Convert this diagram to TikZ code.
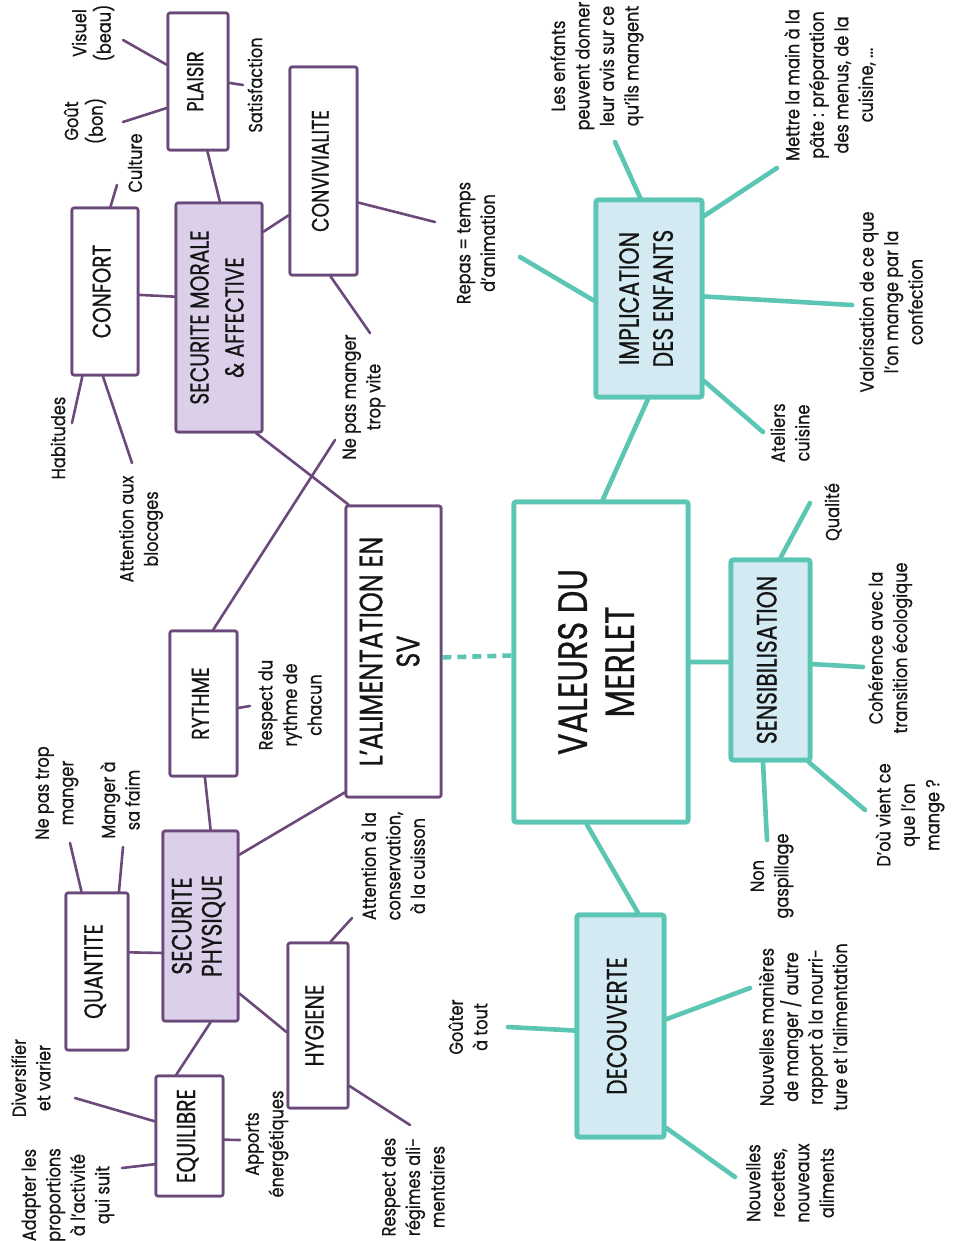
\documentclass[tikz,border=0pt]{standalone}
\usepackage{fontspec}
\setmainfont{Poppins}[FakeStretch=0.85, FakeBold=0.6]
\newfontfamily\capsfont{Poppins}[FakeStretch=0.78, FakeBold=0.6]
\usepackage{graphicx}
\usetikzlibrary{calc}
\definecolor{purp}{HTML}{6B4A7B}
\definecolor{lav}{HTML}{DCCFEA}
\definecolor{tealc}{HTML}{5CC6B4}
\definecolor{lblue}{HTML}{D3EAF3}
\definecolor{ink}{HTML}{151515}
\newcommand\edgeL[2]{($(#1.north west)!#2!(#1.south west)$)}
\newcommand\edgeR[2]{($(#1.north east)!#2!(#1.south east)$)}
\newcommand\edgeT[2]{($(#1.north west)!#2!(#1.north east)$)}
\newcommand\edgeB[2]{($(#1.south west)!#2!(#1.south east)$)}
\newcommand\rtext[1]{\rotatebox{90}{\begin{tabular}{@{}c@{}}#1\end{tabular}}}
\newcommand\fs[2]{\fontsize{#1}{#2}\selectfont}
\newcommand\cs[2]{\capsfont\fontsize{#1}{#2}\selectfont}
\begin{document}
\begin{tikzpicture}[x=1pt,y=-1pt,
  dim/.style 2 args={minimum width=#1pt, minimum height=#2pt},
  pbox/.style={draw=purp, line width=2.6pt, fill=white, rounded corners=2pt, inner sep=0pt, text=ink},
  pfill/.style={pbox, fill=lav},
  tbox/.style={draw=tealc, line width=4.6pt, fill=white, rounded corners=2pt, inner sep=0pt, text=ink},
  tfill/.style={tbox, fill=lblue},
  leaf/.style={rotate=90, align=center, font=\fs{19}{24.5}, inner sep=0pt, text=ink},
  pl/.style={draw=purp, line width=2.6pt, line cap=round},
  tl/.style={draw=tealc, line width=4.6pt, line cap=round}]
\fill[white] (0,0) rectangle (953,1241);
\useasboundingbox (0,0) rectangle (953,1241);

% ---------- purple boxes ----------
\node[pbox, dim={60}{137}, font=\cs{23}{26}] (plaisir) at (198,81.5) {\rtext{PLAISIR}};
\node[pbox, dim={67}{208}, font=\cs{24}{26}] (conviv) at (323.5,171) {\rtext{CONVIVIALITE}};
\node[pbox, dim={66}{167}, font=\cs{25.5}{28}] (confort) at (105,291.5) {\rtext{CONFORT}};
\node[pfill, dim={86}{229}, font=\cs{26}{35}] (secmor) at (219,317.5) {\rtext{SECURITE MORALE\\ \& AFFECTIVE}};
\node[pbox, dim={95}{291}, font=\cs{32.5}{37}] (alim) at (393.5,651.5) {\rtext{L’ALIMENTATION EN\\ SV}};
\node[pbox, dim={67}{145}, font=\cs{24.5}{27}] (rythme) at (203.5,703.5) {\rtext{RYTHME}};
\node[pfill, dim={75}{190}, font=\cs{28}{30}] (secphy) at (200.5,926) {\rtext{SECURITE\\ PHYSIQUE}};
\node[pbox, dim={62}{157}, font=\cs{26}{28}] (quant) at (97,971.5) {\rtext{QUANTITE}};
\node[pbox, dim={60}{165}, font=\cs{26}{28}] (hyg) at (318,1025.5) {\rtext{HYGIENE}};
\node[pbox, dim={67}{120}, font=\cs{26}{28}] (equil) at (189.5,1136) {\rtext{EQUILIBRE}};

% ---------- teal boxes ----------
\node[tbox, dim={174}{320}, font=\cs{41}{47}] (val) at (601,662) {\rtext{VALEURS DU\\ MERLET}};
\node[tfill, dim={106}{197}, font=\cs{28}{34}] (impl) at (649,298.5) {\rtext{IMPLICATION\\ DES ENFANTS}};
\node[tfill, dim={79}{200}, font=\cs{28}{30}] (sens) at (770.5,660) {\rtext{SENSIBILISATION}};
\node[tfill, dim={87}{222}, font=\cs{28}{30}] (dec) at (620.5,1026) {\rtext{DECOUVERTE}};

% ---------- leaf labels ----------
\node[leaf] (lvis) at (93,33) {Visuel\\(beau)};
\node[leaf] (lgout) at (85,121) {Goût\\(bon)};
\node[leaf] (lsat) at (255,85) {Satisfaction};
\node[leaf] (lcult) at (135,163) {Culture};
\node[leaf] (lhab) at (58,438) {Habitudes};
\node[leaf] (lbloc) at (141,529) {Attention aux\\blocages};
\node[leaf] (lvite) at (364,397) {Ne pas manger\\trop vite};
\node[leaf] (lrepas) at (476,243) {Repas = temps\\d’animation};
\node[leaf] (lryth) at (290,705) {Respect du\\rythme de\\chacun};
\node[leaf] (ltrop) at (57,793) {Ne pas trop\\manger};
\node[leaf] (lfaim) at (120,800) {Manger à\\sa faim};
\node[leaf] (lcons) at (393,866) {Attention à la\\conservation,\\à la cuisson};
\node[leaf] (ldiv) at (31,1078) {Diversifier\\et varier};
\node[leaf] (ladapt) at (68,1195) {Adapter les\\proportions\\à l’activité\\qui suit};
\node[leaf] (lapp) at (267,1144) {Apports\\énergétiques};
\node[leaf] (lreg) at (413,1187) {Respect des\\régimes ali-\\mentaires};
\node[leaf] (lenf) at (597,66) {Les enfants\\peuvent donner\\leur avis sur ce\\qu’ils mangent};
\node[leaf] (lmain) at (830,85) {Mettre la main à la\\pâte : préparation\\des menus, de la\\cuisine, ...};
\node[leaf] (lvalo) at (891,302) {Valorisation de ce que\\l’on mange par la\\confection};
\node[leaf] (latel) at (790,433) {Ateliers\\cuisine};
\node[leaf] (lqual) at (833,512) {Qualité};
\node[leaf] (lcoh) at (890,648) {Cohérence avec la\\transition écologique};
\node[leaf] (lgasp) at (772,876) {Non\\gaspillage};
\node[leaf] (ldou) at (910,815) {D’où vient ce\\que l’on\\mange ?};
\node[leaf] (lgout2) at (468,1027) {Goûter\\à tout};
\node[leaf] (lman) at (803,1027) {Nouvelles manières\\de manger / autre\\rapport à la nourri-\\ture et l’alimentation};
\node[leaf] (lrec) at (790,1183) {Nouvelles\\recettes,\\nouveaux\\aliments};

% ---------- free ends ----------
\coordinate (evis) at (123,40);
\coordinate (egout) at (123,122);
\coordinate (esat) at (243,85);
\coordinate (ecult) at (117,185);
\coordinate (ehab) at (72,423);
\coordinate (ebloc) at (132,463);
\coordinate (erepasP) at (435,222);
\coordinate (eviteC) at (370,333);
\coordinate (eviteR) at (335,440);
\coordinate (eryth) at (250,706);
\coordinate (etrop) at (70,843);
\coordinate (efaim) at (123,847);
\coordinate (econs) at (352,918);
\coordinate (ereg) at (410,1125);
\coordinate (ediv) at (75,1098);
\coordinate (eadapt) at (122,1168);
\coordinate (eapp) at (240,1140);
\coordinate (erepasT) at (520,257);
\coordinate (eenf) at (615,142);
\coordinate (emain) at (777,168);
\coordinate (evalo) at (852,305);
\coordinate (eatel) at (763,432);
\coordinate (equal) at (810,503);
\coordinate (ecoh) at (863,667);
\coordinate (egasp) at (767,840);
\coordinate (edou) at (865,810);
\coordinate (egout2) at (508,1027);
\coordinate (eman) at (750,988);
\coordinate (erec) at (735,1177);

% ---------- purple connectors ----------
\draw[pl] \edgeL{plaisir}{0.38} -- (evis);
\draw[pl] \edgeL{plaisir}{0.69} -- (egout);
\draw[pl] \edgeR{plaisir}{0.51} -- (esat);
\draw[pl] \edgeB{plaisir}{0.65} -- \edgeT{secmor}{0.51};
\draw[pl] \edgeT{confort}{0.58} -- (ecult);
\draw[pl] \edgeR{confort}{0.52} -- \edgeL{secmor}{0.41};
\draw[pl] \edgeB{confort}{0.17} -- (ehab);
\draw[pl] \edgeB{confort}{0.47} -- (ebloc);
\draw[pl] \edgeR{secmor}{0.13} -- \edgeL{conviv}{0.71};
\draw[pl] \edgeR{conviv}{0.65} -- (erepasP);
\draw[pl] \edgeB{conviv}{0.60} -- (eviteC);
\draw[pl] \edgeB{secmor}{0.92} -- \edgeT{alim}{0.04};
\draw[pl] \edgeT{rythme}{0.64} -- (eviteR);
\draw[pl] \edgeR{rythme}{0.53} -- (eryth);
\draw[pl] \edgeB{rythme}{0.52} -- \edgeT{secphy}{0.63};
\draw[pl] \edgeL{alim}{0.98} -- \edgeR{secphy}{0.13};
\draw[pl] \edgeL{secphy}{0.64} -- \edgeR{quant}{0.38};
\draw[pl] \edgeT{quant}{0.26} -- (etrop);
\draw[pl] \edgeT{quant}{0.84} -- (efaim);
\draw[pl] \edgeB{secphy}{0.63} -- \edgeT{equil}{0.31};
\draw[pl] \edgeR{secphy}{0.85} -- \edgeL{hyg}{0.54};
\draw[pl] \edgeT{hyg}{0.70} -- (econs);
\draw[pl] \edgeR{hyg}{0.86} -- (ereg);
\draw[pl] \edgeL{equil}{0.38} -- (ediv);
\draw[pl] \edgeL{equil}{0.73} -- (eadapt);
\draw[pl] \edgeR{equil}{0.53} -- (eapp);

% ---------- teal connectors ----------
\draw[tl, dash pattern=on 9pt off 6pt, line cap=butt] \edgeR{alim}{0.52} -- \edgeL{val}{0.48};
\draw[tl] \edgeT{val}{0.51} -- \edgeB{impl}{0.49};
\draw[tl] \edgeR{val}{0.5} -- \edgeL{sens}{0.51};
\draw[tl] \edgeB{val}{0.42} -- \edgeT{dec}{0.69};
\draw[tl] \edgeL{impl}{0.51} -- (erepasT);
\draw[tl] \edgeT{impl}{0.42} -- (eenf);
\draw[tl] \edgeR{impl}{0.09} -- (emain);
\draw[tl] \edgeR{impl}{0.49} -- (evalo);
\draw[tl] \edgeR{impl}{0.91} -- (eatel);
\draw[tl] \edgeT{sens}{0.62} -- (equal);
\draw[tl] \edgeR{sens}{0.52} -- (ecoh);
\draw[tl] \edgeB{sens}{0.41} -- (egasp);
\draw[tl] \edgeB{sens}{0.96} -- (edou);
\draw[tl] \edgeL{dec}{0.52} -- (egout2);
\draw[tl] \edgeR{dec}{0.47} -- (eman);
\draw[tl] \edgeR{dec}{0.95} -- (erec);

% redraw boxes on top of connectors
\node[pbox, dim={60}{137}, font=\cs{23}{26}] at (plaisir) {\rtext{PLAISIR}};
\node[pbox, dim={67}{208}, font=\cs{24}{26}] at (conviv) {\rtext{CONVIVIALITE}};
\node[pbox, dim={66}{167}, font=\cs{25.5}{28}] at (confort) {\rtext{CONFORT}};
\node[pfill, dim={86}{229}, font=\cs{26}{35}] at (secmor) {\rtext{SECURITE MORALE\\ \& AFFECTIVE}};
\node[pbox, dim={95}{291}, font=\cs{32.5}{37}] at (alim) {\rtext{L’ALIMENTATION EN\\ SV}};
\node[pbox, dim={67}{145}, font=\cs{24.5}{27}] at (rythme) {\rtext{RYTHME}};
\node[pfill, dim={75}{190}, font=\cs{28}{30}] at (secphy) {\rtext{SECURITE\\ PHYSIQUE}};
\node[pbox, dim={62}{157}, font=\cs{26}{28}] at (quant) {\rtext{QUANTITE}};
\node[pbox, dim={60}{165}, font=\cs{26}{28}] at (hyg) {\rtext{HYGIENE}};
\node[pbox, dim={67}{120}, font=\cs{26}{28}] at (equil) {\rtext{EQUILIBRE}};
\node[tbox, dim={174}{320}, font=\cs{41}{47}] at (val) {\rtext{VALEURS DU\\ MERLET}};
\node[tfill, dim={106}{197}, font=\cs{28}{34}] at (impl) {\rtext{IMPLICATION\\ DES ENFANTS}};
\node[tfill, dim={79}{200}, font=\cs{28}{30}] at (sens) {\rtext{SENSIBILISATION}};
\node[tfill, dim={87}{222}, font=\cs{28}{30}] at (dec) {\rtext{DECOUVERTE}};
\end{tikzpicture}
\end{document}
